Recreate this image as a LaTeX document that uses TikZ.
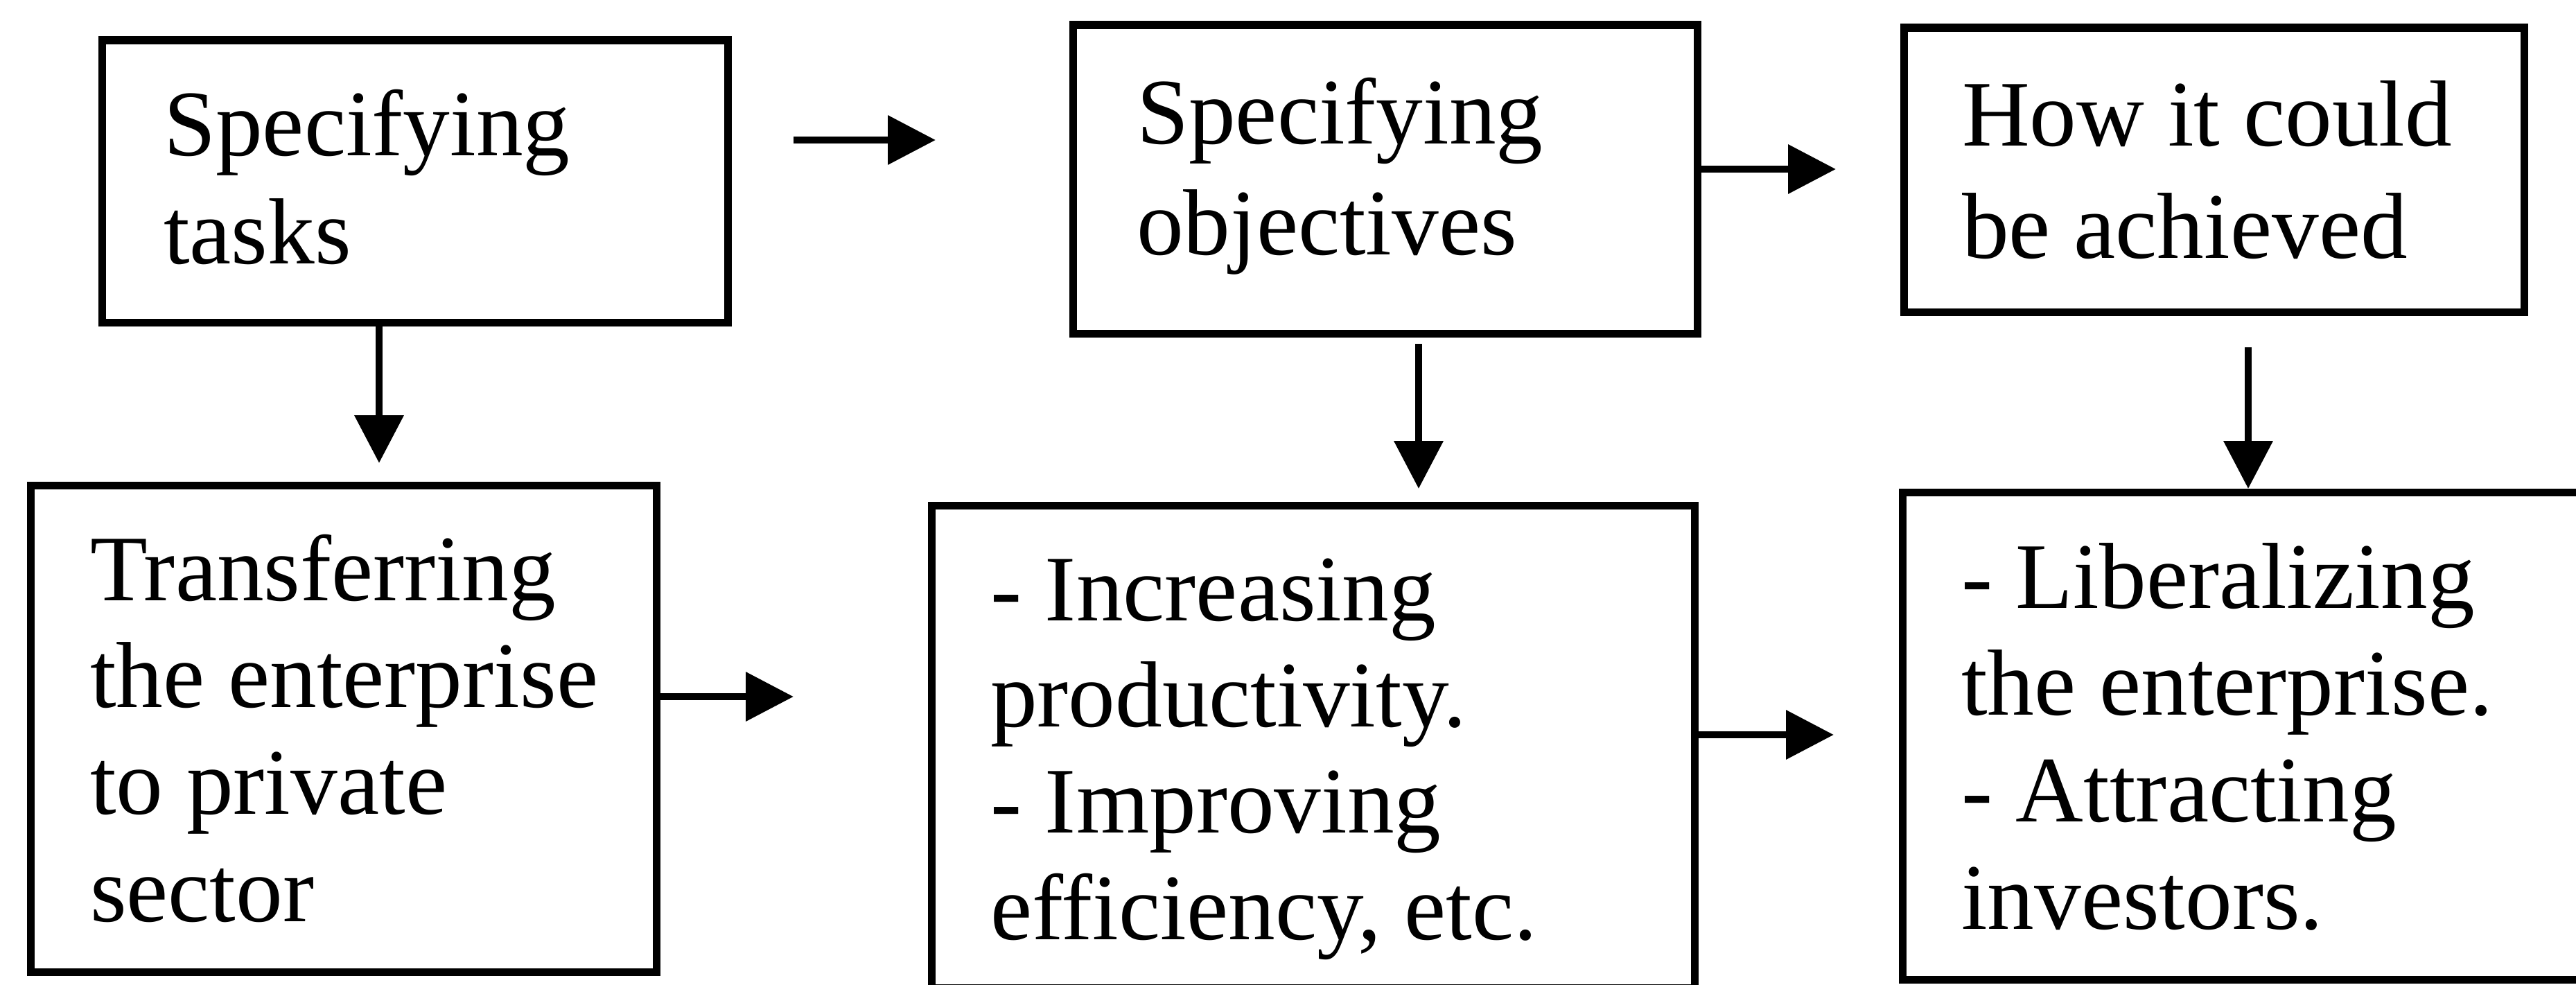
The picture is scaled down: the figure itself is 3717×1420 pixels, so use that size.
\documentclass[tikz,border=0pt]{standalone}
\usepackage{fontspec}
\setmainfont{Liberation Serif}
\usetikzlibrary{arrows.meta}
\begin{document}
\begin{tikzpicture}[x=0.01cm, y=-0.01cm,
  box/.style={draw, line width=3.2pt, inner sep=0pt, outer sep=0pt},
  boxtext/.style={anchor=base west, inner sep=0pt, outer sep=0pt, align=left,
    font=\fontsize{38.5}{44}\selectfont},
  arr/.style={line width=3pt, -{Triangle[length=19.6pt, width=19.6pt]}}
]
\useasboundingbox (0,0) rectangle (3717,1420);
\clip (0,0) rectangle (3717,1420);

% boxes
\node[box, minimum width=9.02cm, minimum height=4.07cm] (b1) at (599,261.5) {};
\node[box, minimum width=9.00cm, minimum height=4.45cm] (b2) at (1999,258.5) {};
\node[box, minimum width=8.94cm, minimum height=4.10cm] (b3) at (3195,245) {};
\node[box, minimum width=9.02cm, minimum height=7.01cm] (b4) at (496,1051.5) {};
\node[box, minimum width=11.00cm, minimum height=6.95cm] (b5) at (1895,1077.5) {};
\node[box, minimum width=10.24cm, minimum height=7.02cm] (b6) at (3258,1062) {};

% texts (anchored at the baseline of their last line)
\node[boxtext, font=\fontsize{38.5}{44.1}\selectfont] (t1) at (236,380) {Specifying\\tasks};
\node[boxtext, font=\fontsize{38.5}{45.5}\selectfont] (t2) at (1640,367) {Specifying\\objectives};
\node[boxtext, font=\fontsize{38.5}{45.8}\selectfont] (t3) at (2831,372) {How it could\\be achieved};
\node[boxtext, font=\fontsize{38.5}{43.8}\selectfont] (t4) at (130,1329) {Transferring\\the enterprise\\to private\\sector};
\node[boxtext, font=\fontsize{38.5}{43.6}\selectfont] (t5) at (1429,1355) {- Increasing\\productivity.\\- Improving\\efficiency, etc.};
\node[boxtext, font=\fontsize{38.5}{43.8}\selectfont] (t6) at (2830,1340) {- Liberalizing\\the enterprise.\\- Attracting\\investors.};

% arrow ends
\coordinate (a1s) at (1145,202);
\coordinate (a1e) at (1350,202);
\coordinate (a2e) at (2649,244);
\coordinate (a3e) at (547,668);
\coordinate (a4s) at (2047,496);
\coordinate (a4e) at (2047,705);
\coordinate (a5s) at (3244,501);
\coordinate (a5e) at (3244,705);
\coordinate (a6e) at (1145,1005);
\coordinate (a7e) at (2646,1060);

% connectors
\draw[arr] (a1s) -- (a1e);
\draw[arr] (b2.east |- a2e) -- (a2e);
\draw[arr] (b1.south -| a3e) -- (a3e);
\draw[arr] (a4s) -- (a4e);
\draw[arr] (a5s) -- (a5e);
\draw[arr] (b4.east |- a6e) -- (a6e);
\draw[arr] (b5.east |- a7e) -- (a7e);
\end{tikzpicture}
\end{document}
